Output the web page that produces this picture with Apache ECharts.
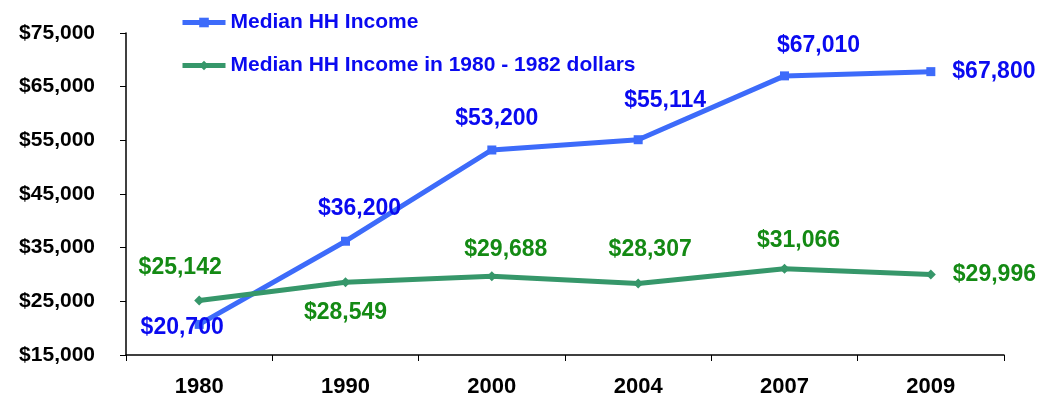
<!DOCTYPE html>
<html><head><meta charset="utf-8">
<script src="https://cdn.jsdelivr.net/npm/echarts@6/dist/echarts.min.js"></script>
<style>html,body{margin:0;padding:0;background:#fff}#c{width:1042px;height:400px}</style>
</head><body><div id="c"></div>
<script>
const years = ['1980','1990','2000','2004','2007','2009'];
const medianIncome = [20700, 36200, 53200, 55114, 67010, 67800];
const medianIncome1980 = [25142, 28549, 29688, 28307, 31066, 29996];
const seriesNames = ['Median HH Income', 'Median HH Income in 1980 - 1982 dollars'];

const fmt = v => '$' + v.toLocaleString('en-US');
const FONT = '"Liberation Sans", Arial, sans-serif';

// label placement per point (style, not data)
const blueLabelPos = [
  {position:'inside', offset:[-17, 3]},
  {position:'top', offset:[14, -12]},
  {position:'top', offset:[5, -10]},
  {position:'top', offset:[27, -18]},
  {position:'top', offset:[34, -9]},
  {position:'right', offset:[12, 0]}
];
const greenLabelPos = [
  {position:'top', offset:[-19, -11]},
  {position:'bottom', offset:[0, 9]},
  {position:'top', offset:[14, -5]},
  {position:'top', offset:[12, -12]},
  {position:'top', offset:[14, -7]},
  {position:'right', offset:[12, 0]}
];

function build(values, pos) {
  return values.map((v, i) => ({value: v, label: pos[i]}));
}

const chart = echarts.init(document.getElementById('c'), null, {renderer:'canvas'});
chart.setOption({
  animation: false,
  textStyle: {fontFamily: FONT},
  grid: {left: 126, right: 38, top: 33, bottom: 45},
  legend: {
    orient: 'vertical', left: 175, top: 7, itemGap: 22,
    itemWidth: 43, itemHeight: 12,
    lineStyle: {width: 5},
    textStyle: {color: '#0A0AF0', fontWeight: 'bold', fontSize: 21, fontFamily: FONT},
    data: seriesNames
  },
  xAxis: {
    type: 'category', data: years, boundaryGap: true,
    axisLine: {lineStyle: {color: '#000', width: 1.5}},
    axisTick: {show: true, length: 6, inside: false, lineStyle: {color: '#000'}},
    axisLabel: {color: '#000', fontWeight: 'bold', fontSize: 22, margin: 21, fontFamily: FONT},
    splitLine: {show: false}
  },
  yAxis: {
    type: 'value', min: 15000, max: 75000, interval: 10000,
    axisLine: {show: true, lineStyle: {color: '#000', width: 1.5}},
    axisTick: {show: true, length: 6, lineStyle: {color: '#000'}},
    axisLabel: {color: '#000', fontWeight: 'bold', fontSize: 21, margin: 31, fontFamily: FONT, formatter: fmt},
    splitLine: {show: false}
  },
  series: [
    {
      name: seriesNames[0], type: 'line',
      data: build(medianIncome, blueLabelPos),
      symbol: 'rect', symbolSize: 9,
      lineStyle: {color: '#3D6BFA', width: 5},
      itemStyle: {color: '#3D6BFA'},
      label: {show: true, color: '#0A0AF0', fontWeight: 'bold', fontSize: 23, fontFamily: FONT, formatter: p => fmt(p.value)}
    },
    {
      name: seriesNames[1], type: 'line',
      data: build(medianIncome1980, greenLabelPos),
      symbol: 'diamond', symbolSize: 10,
      lineStyle: {color: '#36976A', width: 5},
      itemStyle: {color: '#36976A'},
      label: {show: true, color: '#148A14', fontWeight: 'bold', fontSize: 23, fontFamily: FONT, formatter: p => fmt(p.value)}
    }
  ]
});
</script></body></html>
